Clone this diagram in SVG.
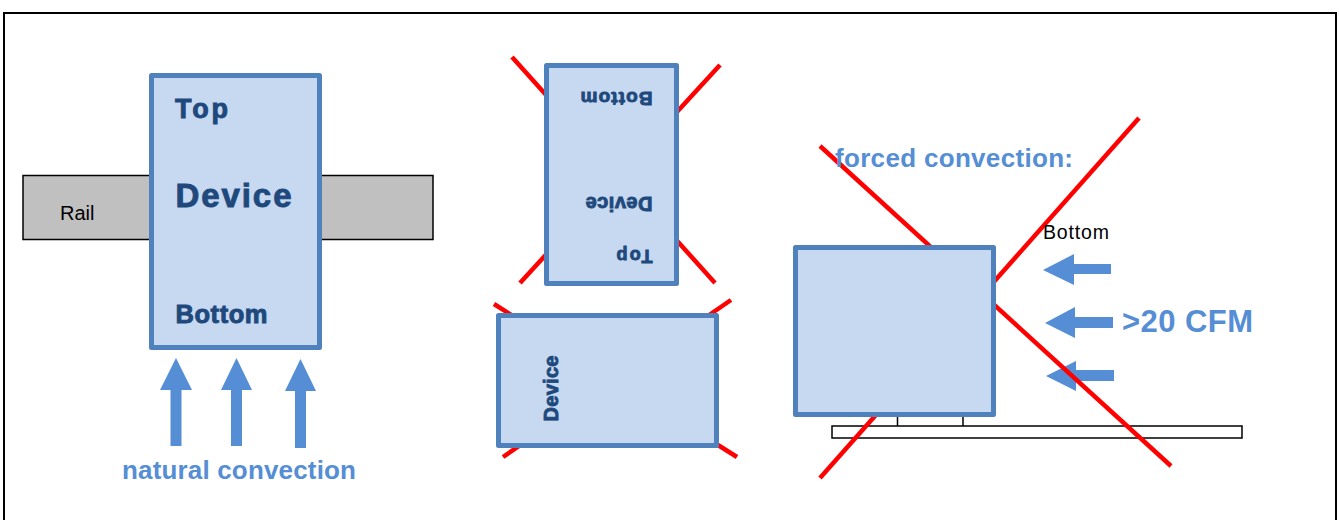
<svg xmlns="http://www.w3.org/2000/svg" width="1339" height="520" viewBox="0 0 1339 520">
<style>
.dev{fill:#C6D9F0;stroke:#4F81BD;stroke-width:5;stroke-linejoin:round}
.dt{font-family:"Liberation Sans",Arial,sans-serif;font-weight:bold;fill:#1F497D;stroke:#1F497D;stroke-width:0.9}
.blue{font-family:"Liberation Sans",Arial,sans-serif;font-weight:bold;fill:#558ED5}
.plain{font-family:"Liberation Sans",Arial,sans-serif;fill:#000}
.x{stroke:#FF0000;stroke-width:4.5;fill:none}
.arr{fill:#558ED5}
.ln{fill:none;stroke:#000;stroke-width:1.5}
</style>
<rect width="1339" height="520" fill="#fff"/>
<path d="M4,525 V13 H1336 V525" fill="none" stroke="#000" stroke-width="2"/>

<g id="rail">
<rect x="23" y="175.5" width="410" height="64" fill="#C0C0C0" stroke="#000" stroke-width="1.5"/>
<text class="plain" x="60" y="220" font-size="20">Rail</text>
</g>

<g id="device-correct">
<rect class="dev" x="151.5" y="75.5" width="168" height="272"/>
<text class="dt" x="175" y="118" font-size="27" textLength="53">Top</text>
<text class="dt" x="175.5" y="207" font-size="33" textLength="116">Device</text>
<text class="dt" x="175.5" y="322.5" font-size="25.5" textLength="92">Bottom</text>
</g>

<g id="natural-arrows">
<path class="arr" d="M176,358 L192,390 L181.5,390 L181.5,446 L170.5,446 L170.5,390 L160,390 Z"/>
<path class="arr" d="M236.5,358 L252,390 L242,390 L242,446 L231,446 L231,390 L221,390 Z"/>
<path class="arr" d="M300.5,359 L316,391 L306,391 L306,448 L295,448 L295,391 L285,391 Z"/>
<text class="blue" x="122" y="479" font-size="26" textLength="234">natural convection</text>
</g>

<g id="device-upside-down">
<line class="x" x1="512" y1="57" x2="715" y2="283"/>
<line class="x" x1="720" y1="65" x2="520" y2="283"/>
<rect class="dev" x="546.5" y="65.5" width="130" height="218"/>
<text class="dt" transform="translate(652.5,92) rotate(180)" font-size="19" textLength="72">Bottom</text>
<text class="dt" transform="translate(652.5,197) rotate(180)" font-size="20" textLength="67">Device</text>
<text class="dt" transform="translate(652.5,250) rotate(180)" font-size="18" textLength="36">Top</text>
</g>

<g id="device-horizontal">
<line class="x" x1="494" y1="304" x2="737" y2="457"/>
<line class="x" x1="731" y1="300" x2="503" y2="457"/>
<rect class="dev" x="498.5" y="315.5" width="218" height="130"/>
<text class="dt" transform="translate(557.5,421.5) rotate(-90)" font-size="20" textLength="66">Device</text>
</g>

<g id="device-forced">
<rect x="832" y="426" width="410" height="12" fill="#fff" stroke="#000" stroke-width="1.5"/>
<path class="ln" d="M897.5,417 V426 M963,417 V426"/>
<path class="arr" d="M1043,270 L1074,254 L1074,264 L1111,264 L1111,274 L1074,274 L1074,285 Z"/>
<path class="arr" d="M1045,323 L1075,307 L1075,317 L1113,317 L1113,328 L1075,328 L1075,338 Z"/>
<path class="arr" d="M1046,376 L1076,361 L1076,370 L1114,370 L1114,381 L1076,381 L1076,391 Z"/>
<line class="x" x1="820" y1="146" x2="1171" y2="466"/>
<line class="x" x1="1139" y1="118" x2="820" y2="478"/>
<rect class="dev" x="795.5" y="247.5" width="198" height="167"/>
<text class="blue" x="835" y="167" font-size="26" textLength="238">forced convection:</text>
<text class="plain" x="1043" y="239" font-size="19.5" textLength="66">Bottom</text>
<text class="blue" x="1122" y="332" font-size="31" textLength="131">&gt;20 CFM</text>
</g>
</svg>
